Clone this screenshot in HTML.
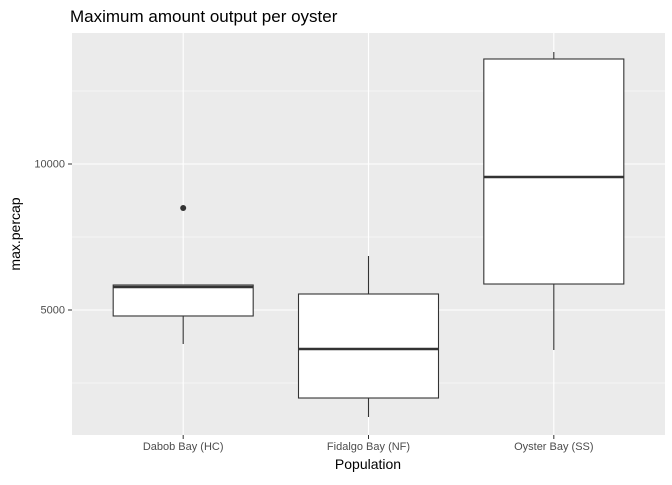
<!DOCTYPE html>
<html><head><meta charset="utf-8"><style>
body{margin:0;background:#fff}
svg{font-family:"Liberation Sans",sans-serif}
</style></head><body>
<svg width="672" height="480">
<text x="70" y="22" font-size="17" fill="#000">Maximum amount output per oyster</text>
<rect x="72" y="33" width="593" height="402" fill="#ebebeb"/>
<g id="grid"></g>
<g id="boxes"></g>
<g id="axes"></g>
<text x="368" y="469" font-size="14" text-anchor="middle">Population</text>
<text transform="translate(20,234) rotate(-90)" font-size="14" text-anchor="middle">max.percap</text>
</svg>
<script>
const categories=["Dabob Bay (HC)","Fidalgo Bay (NF)","Oyster Bay (SS)"];
const lowW=[3836,1336,3630];
const q1=[4795,1986,5890];
const med=[5788,3664,9555];
const q3=[5856,5548,13596];
const highW=[5856,6849,13836];
const outliers=[[8493],[],[]];
const majorTicks=[5000,10000];
const minorTicks=[2500,7500,12500];
const NS="http://www.w3.org/2000/svg";
const y=v=>310-(v-5000)*146/5000;
const x=i=>72+(i+0.6)*593/3.2;
function mk(t,a,p){const e=document.createElementNS(NS,t);for(const k in a)e.setAttribute(k,a[k]);p.appendChild(e);return e;}
const g=document.getElementById('grid'),b=document.getElementById('boxes'),ax=document.getElementById('axes');
minorTicks.forEach(v=>{const l=mk('line',{x1:72,x2:665,y1:y(v),y2:y(v),stroke:'#fff','stroke-width':0.5},g);

});
majorTicks.forEach(v=>{const l=mk('line',{x1:72,x2:665,y1:y(v),y2:y(v),stroke:'#fff','stroke-width':1.1},g);


mk('line',{x1:68,x2:72,y1:y(v),y2:y(v),stroke:'#333'},ax);
const t=mk('text',{x:65,y:y(v)+3.5,'font-size':11,'text-anchor':'end',fill:'#4d4d4d'},ax);t.textContent=v;

});
categories.forEach((c,i)=>{const cx=x(i);
const gl=mk('line',{x1:cx,x2:cx,y1:33,y2:435,stroke:'#fff','stroke-width':1.1},g);


const bg=mk('g',{},b);


mk('line',{x1:cx,x2:cx,y1:y(lowW[i]),y2:y(q1[i]),stroke:'#333','stroke-width':1.1},bg);
mk('line',{x1:cx,x2:cx,y1:y(q3[i]),y2:y(highW[i]),stroke:'#333','stroke-width':1.1},bg);
mk('rect',{x:cx-70,width:140,y:y(q3[i]),height:y(q1[i])-y(q3[i]),fill:'#fff',stroke:'#333','stroke-width':1.1},bg);
mk('line',{x1:cx-70,x2:cx+70,y1:y(med[i]),y2:y(med[i]),stroke:'#333','stroke-width':2.5},bg);
outliers[i].forEach(o=>{const c2=mk('circle',{cx:cx,cy:y(o),r:3,fill:'#333'},bg);

});
mk('line',{x1:cx,x2:cx,y1:435,y2:439,stroke:'#333'},ax);
const t=mk('text',{x:cx,y:450,'font-size':11,'text-anchor':'middle',fill:'#4d4d4d'},ax);t.textContent=c;

});
</script>
</body></html>
